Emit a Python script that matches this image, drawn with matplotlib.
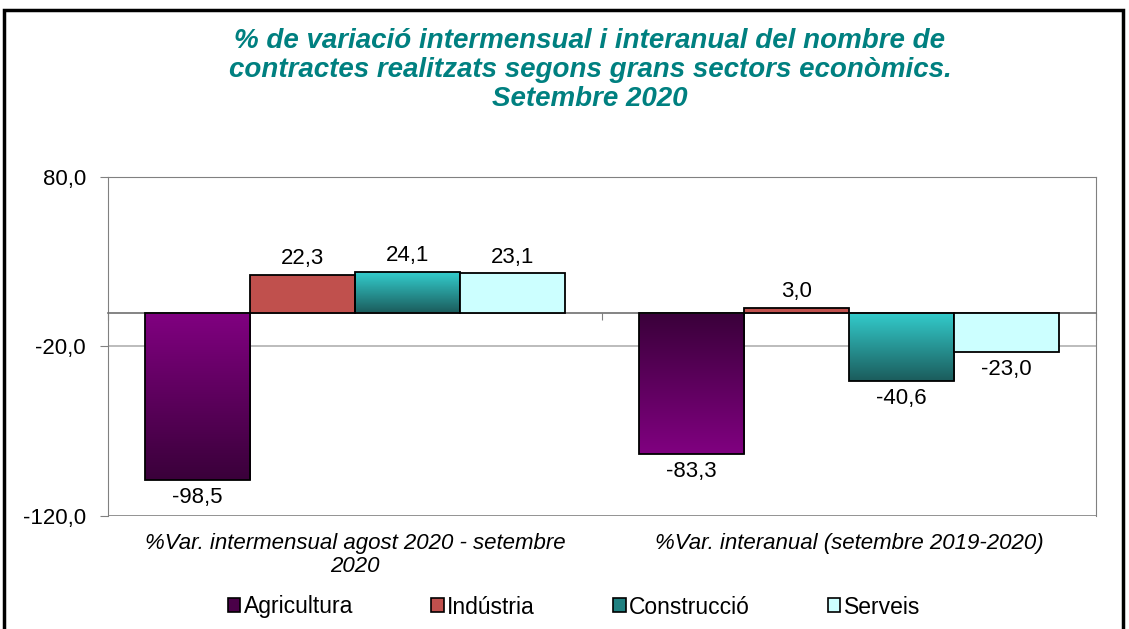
import numpy as np
import matplotlib
matplotlib.use("Agg")
import matplotlib.pyplot as plt
from matplotlib.patches import Patch, Rectangle
from matplotlib.colors import LinearSegmentedColormap
from matplotlib.ticker import FuncFormatter

plt.rcParams['font.family'] = ['Liberation Sans', 'DejaVu Sans']

# data
groups = ["%Var. intermensual agost 2020 - setembre\n2020",
          "%Var. interanual (setembre 2019-2020)"]
sectors = ["Agricultura", "Indústria", "Construcció", "Serveis"]
agricultura = [-98.5, -83.3]
industria = [22.3, 3.0]
construccio = [24.1, -40.6]
serveis = [23.1, -23.0]
values = [agricultura, industria, construccio, serveis]

# (top colour, bottom colour) per bar; None = flat
fills = [
    [("#800080", "#3a003a"), ("#3a003a", "#800080")],
    [None, None],
    [("#33cccc", "#1b5c5c"), ("#33cccc", "#1b5c5c")],
    [None, None],
]
flat = ["#800080", "#c0504d", "#33cccc", "#ccffff"]
legend_col = ["#4a0048", "#c0504d", "#1f8080", "#ccffff"]

W, H = 1129, 629
fig = plt.figure(figsize=(W / 100, H / 100), dpi=100)
ax = fig.add_axes([108 / W, 1 - 516 / H, (1096 - 108) / W, (516 - 177) / H])

x = np.arange(len(groups))
bw = 0.2126

def fmt(v):
    return f"{v:.1f}".replace(".", ",")

for k, vals in enumerate(values):
    pos = x + (k - 1.5) * bw
    bars = ax.bar(pos, vals, width=bw, color=flat[k], edgecolor="black",
                  linewidth=1.3, zorder=3)
    for i, b in enumerate(bars):
        f = fills[k][i]
        if f is not None:
            b.set_facecolor("none")
            cm = LinearSegmentedColormap.from_list("g", [f[1], f[0]])
            y0, y1 = sorted([0, vals[i]])
            ax.imshow(np.linspace(0, 1, 100).reshape(-1, 1), cmap=cm,
                      extent=[b.get_x(), b.get_x() + bw, y0, y1],
                      origin="lower", aspect="auto", zorder=2)
        v = vals[i]
        ax.annotate(fmt(v), (pos[i], v), xytext=(0, 4 if v > 0 else -5),
                    textcoords="offset points", ha="center",
                    va="bottom" if v > 0 else "top", fontsize=16, zorder=5)

ax.set_xlim(-0.5, 1.5)
ax.set_ylim(-120, 80)

# axes styling
for s in ["left", "right", "top"]:
    ax.spines[s].set_color("#808080")
ax.spines["bottom"].set_position(("data", 0))
ax.spines["bottom"].set_color("#707070")
ax.spines["bottom"].set_linewidth(1.2)
ax.axhline(-120, color="#808080", lw=1.2, zorder=1)
ax.axhline(-20, color="#b0b0b0", lw=1.2, zorder=1)

ax.set_yticks([80, -20, -120])
ax.yaxis.set_major_formatter(FuncFormatter(lambda v, p: fmt(v)))
ax.tick_params(axis="y", length=6, color="#808080", labelsize=16, pad=10)
ax.set_xticks([-0.5, 0.5, 1.5])
ax.set_xticklabels([])
ax.tick_params(axis="x", length=5, color="#808080", direction="out")

for i, g in enumerate(groups):
    ax.annotate(g, (x[i], -120), xytext=(0, -12), textcoords="offset points",
                ha="center", va="top", fontsize=16, style="italic",
                linespacing=1.15)

fig.text(590 / W, 1 - 70 / H,
         "% de variació intermensual i interanual del nombre de\n"
         "contractes realitzats segons grans sectors econòmics.\n"
         "Setembre 2020",
         ha="center", va="center", fontsize=20, fontweight="bold",
         style="italic", color="#008080", linespacing=1.15)

handles = [Patch(facecolor=c, edgecolor="black", linewidth=1.2) for c in legend_col]
fig.legend(handles, sectors, loc="center", bbox_to_anchor=(574 / W, 1 - 607 / H),
           ncol=4, frameon=False, fontsize=16.5, handlelength=0.55,
           handleheight=0.55, handletextpad=0.15, columnspacing=3.4)

# outer frame
fig.patches.append(Rectangle((4 / W, -0.05), (1123 - 4) / W, 1.05 - 10 / H,
                             transform=fig.transFigure, fill=False,
                             edgecolor="black", linewidth=2.5))

fig.savefig("out.png", dpi=100)
